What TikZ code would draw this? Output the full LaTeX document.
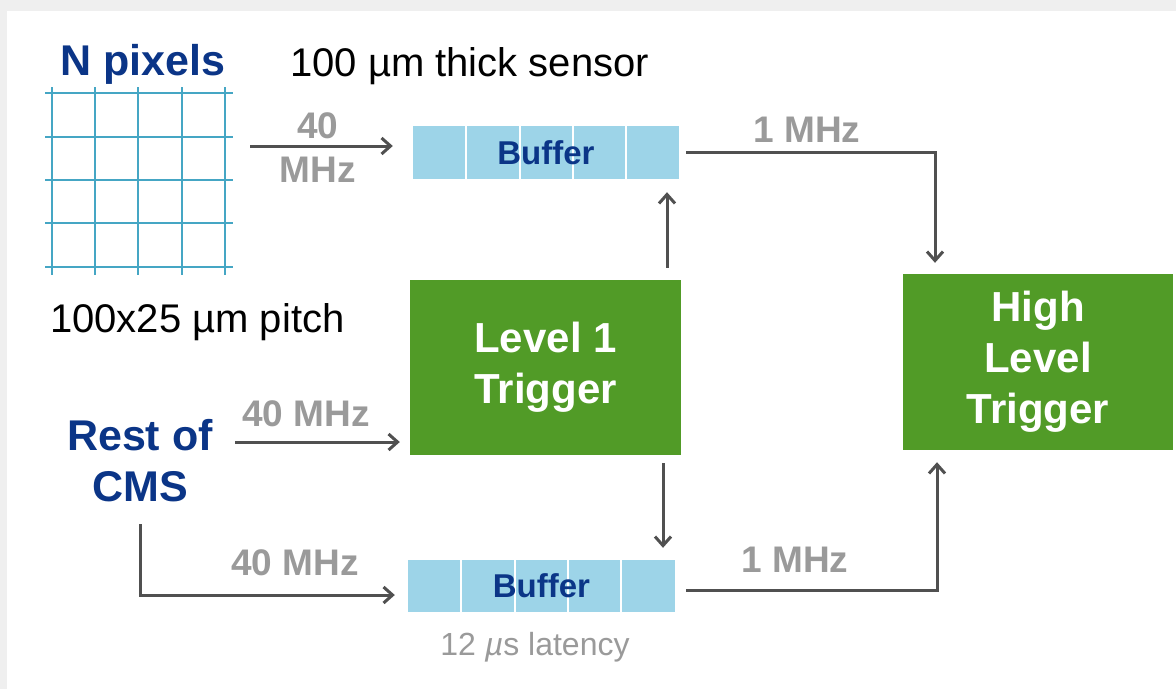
\documentclass[tikz,border=0pt]{standalone}
\usepackage{fontspec}
\setmainfont{Liberation Sans}
\usetikzlibrary{arrows.meta}
\definecolor{navy}{HTML}{0B3587}
\definecolor{trgreen}{HTML}{519B27}
\definecolor{bufblue}{HTML}{9DD4E8}
\definecolor{labgray}{HTML}{9A9A9A}
\definecolor{arrgray}{HTML}{505050}
\definecolor{gridblue}{HTML}{45A6C4}
\definecolor{bggray}{HTML}{EFEFEF}
\begin{document}
\begin{tikzpicture}[x=1pt,y=-1pt,
  arr/.style={draw=arrgray,line width=3pt,-{Straight Barb[length=9pt,width=16pt,line width=3pt]}},
  lab/.style={text=labgray,font=\bfseries\fontsize{37}{40}\selectfont,inner sep=0pt},
  title/.style={text=navy,font=\bfseries\fontsize{43}{51}\selectfont,inner sep=0pt,align=center},
  plain/.style={text=black,font=\fontsize{40}{44}\selectfont,inner sep=0pt},
  trig/.style={fill=trgreen,text=white,font=\bfseries\fontsize{42}{51}\selectfont,align=center,inner sep=0pt},
  bufbox/.style={fill=bufblue,text=navy,font=\bfseries\fontsize{33}{36}\selectfont,inner sep=0pt,
    minimum height=53pt,minimum width=266pt,
    path picture={\foreach \i in {1,2,3,4}{\draw[white,line width=2pt]
      ([xshift=\i*53.3pt]path picture bounding box.north west) --
      ([xshift=\i*53.3pt]path picture bounding box.south west);}}},
  gridline/.style={draw=gridblue,line width=2pt}
]
\useasboundingbox (0,0) rectangle (1176,689);
\fill[white] (0,0) rectangle (1176,689);
\fill[bggray] (0,0) rectangle (1176,11);
\fill[bggray] (0,0) rectangle (7,689);

% pixel grid
\node[inner sep=0pt,minimum width=188pt,minimum height=188pt] (grid) at (139,181) {};
\foreach \x in {52,95,138,182,225} \draw[gridline] (\x,87) -- (\x,275);
\foreach \y in {93,137,180,223,267} \draw[gridline] (45,\y) -- (233,\y);

% texts
\node[title,anchor=base] (npix) at (143,75) {N pixels};
\node[plain,anchor=base west] (thick) at (290,76) {100 µm thick sensor};
\node[plain,anchor=base west] (pitch) at (50,332) {100x25 µm pitch};
\node[title] (rest) at (140,461) {Rest of\\CMS};

% boxes
\node[bufbox] (buf1) at (546,152.5) {Buffer};
\node[bufbox,minimum height=52pt,minimum width=267pt] (buf2) at (541.5,586) {Buffer};
\node[text=labgray,font=\fontsize{32}{36}\selectfont,inner sep=0pt,anchor=base] (lat) at (535,655) {12 {\itshape µ}s latency};
\node[trig,minimum width=271pt,minimum height=175pt] (l1) at (545.5,367.5) {Level 1\\Trigger};
\node[trig,minimum width=270pt,minimum height=176pt] (hlt) at (1038,362) {High\\Level\\Trigger};

% connectors
\draw[arr] ([xshift=17pt]grid.east |- 0,146) -- ([xshift=-20pt]buf1.west |- 0,146);
\node[lab] (l40a) at (318,126) {40};
\node[lab] (l40b) at (318,170) {MHz};

\draw[arr] ([xshift=22pt]rest.east |- 0,442) -- ([xshift=-10pt]l1.west |- 0,442);
\node[lab] (l40c) at (306,414) {40 MHz};

\draw[arr] ([yshift=-22pt]rest.south -| 140,0) |- ([xshift=-13pt]buf2.west |- 0,595);
\node[lab] (l40d) at (295,563) {40 MHz};

\draw[arr] ([yshift=12pt]l1.north -| 667,0) -- ([yshift=-13pt]buf1.south -| 667,0);
\draw[arr] ([yshift=-8pt]l1.south -| 663,0) -- ([yshift=12pt]buf2.north -| 663,0);

\draw[arr] ([xshift=7pt]buf1.east) -| ([yshift=11pt]hlt.north -| 935,0);
\node[lab] (l1a) at (807,130) {1 MHz};
\draw[arr] ([xshift=11pt]buf2.east |- 0,590) -| ([yshift=-12pt]hlt.south -| 937,0);
\node[lab] (l1b) at (795,560) {1 MHz};
\end{tikzpicture}
\end{document}
